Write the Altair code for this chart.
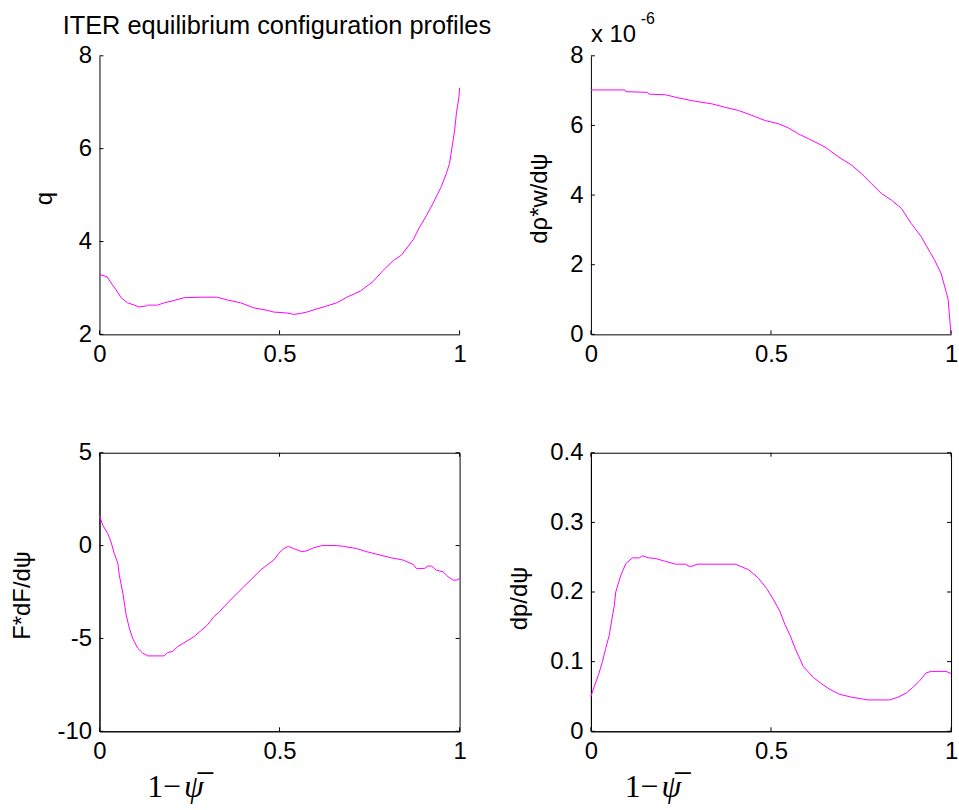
import altair as alt
import pandas as pd

# ---------------- data ----------------
XTICKS = [0, 0.5, 1]

q_x = [0, 0.021, 0.032, 0.046, 0.06, 0.078, 0.097, 0.11, 0.129, 0.134, 0.161, 0.18, 0.207, 0.235, 0.281,
       0.327, 0.355, 0.392, 0.429, 0.465, 0.484, 0.521, 0.539, 0.558, 0.576, 0.604, 0.631, 0.659, 0.687, 0.724,
       0.76, 0.788, 0.816, 0.839, 0.871, 0.889, 0.908, 0.926, 0.949, 0.963, 0.972, 0.982, 0.986, 0.991, 0.998, 1.0]
q_y = [3.29, 3.24, 3.11, 2.96, 2.79, 2.68, 2.63, 2.59, 2.61, 2.63, 2.63, 2.68, 2.73, 2.79, 2.80,
       2.80, 2.74, 2.68, 2.57, 2.52, 2.48, 2.46, 2.43, 2.45, 2.48, 2.55, 2.61, 2.68, 2.80, 2.93,
       3.14, 3.38, 3.59, 3.71, 4.04, 4.31, 4.56, 4.82, 5.18, 5.46, 5.68, 6.18, 6.39, 6.75, 7.11, 7.31]
q_ticks = [2, 4, 6, 8]

w_x = [0, 0.094, 0.097, 0.157, 0.161, 0.207, 0.244, 0.281, 0.336, 0.373, 0.41, 0.447, 0.484, 0.521, 0.548,
       0.576, 0.604, 0.65, 0.687, 0.724, 0.751, 0.779, 0.806, 0.834, 0.862, 0.889, 0.917, 0.935, 0.954, 0.972,
       0.986, 0.992, 0.995, 0.998, 1.0]
w_y = [7.02, 7.02, 6.97, 6.95, 6.90, 6.88, 6.79, 6.71, 6.62, 6.52, 6.43, 6.29, 6.14, 6.05, 5.93,
       5.76, 5.62, 5.38, 5.10, 4.86, 4.62, 4.33, 4.05, 3.86, 3.62, 3.19, 2.81, 2.48, 2.14, 1.76,
       1.24, 1.0, 0.62, 0.24, 0.0]
w_ticks = [0, 2, 4, 6, 8]

f_x = [0, 0.009, 0.023, 0.032, 0.041, 0.051, 0.055, 0.065, 0.074, 0.083, 0.092, 0.106, 0.12, 0.134, 0.18,
       0.189, 0.203, 0.217, 0.24, 0.263, 0.281, 0.3, 0.318, 0.332, 0.346, 0.373, 0.401, 0.429, 0.447, 0.465,
       0.484, 0.498, 0.512, 0.525, 0.539, 0.562, 0.576, 0.594, 0.617, 0.659, 0.677, 0.714, 0.742, 0.779, 0.811,
       0.843, 0.871, 0.88, 0.903, 0.912, 0.922, 0.935, 0.954, 0.968, 0.982, 0.991, 1.0]
f_y = [1.63, 1.10, 0.65, 0.20, -0.42, -0.96, -1.59, -2.57, -3.73, -4.45, -4.99, -5.52, -5.79, -5.94, -5.94,
       -5.76, -5.70, -5.44, -5.17, -4.90, -4.59, -4.27, -3.82, -3.59, -3.29, -2.75, -2.21, -1.68, -1.32, -1.05,
       -0.78, -0.42, -0.16, -0.04, -0.16, -0.33, -0.28, -0.12, 0.0, 0.0, -0.04, -0.16, -0.33, -0.51, -0.66,
       -0.78, -1.01, -1.23, -1.23, -1.10, -1.10, -1.32, -1.41, -1.68, -1.86, -1.86, -1.77]
f_ticks = [-10, -5, 0, 5]

p_x = [0, 0.009, 0.021, 0.032, 0.041, 0.051, 0.058, 0.065, 0.069, 0.083, 0.097, 0.115, 0.134, 0.143, 0.161,
       0.18, 0.207, 0.235, 0.263, 0.272, 0.281, 0.295, 0.401, 0.438, 0.465, 0.488, 0.507, 0.525, 0.539, 0.553,
       0.567, 0.59, 0.618, 0.641, 0.664, 0.691, 0.724, 0.77, 0.829, 0.853, 0.876, 0.894, 0.912, 0.931, 0.945,
       0.986, 1.0]
p_y = [0.050, 0.064, 0.081, 0.100, 0.119, 0.138, 0.160, 0.181, 0.200, 0.224, 0.241, 0.249, 0.249, 0.252, 0.249,
       0.248, 0.244, 0.240, 0.240, 0.237, 0.237, 0.240, 0.240, 0.232, 0.220, 0.205, 0.189, 0.172, 0.153, 0.138,
       0.119, 0.093, 0.077, 0.068, 0.060, 0.053, 0.049, 0.045, 0.045, 0.049, 0.055, 0.063, 0.072, 0.084, 0.086,
       0.086, 0.083]
p_ticks = [0, 0.1, 0.2, 0.3, 0.4]

TITLE = ["ITER equilibrium configuration profiles"]
EXP_BASE = ["x 10"]
EXP_POW = ["-6"]
XLAB_A = ["1\u2212"]
XLAB_B = ["\u03c8\u0305"]
YTITLES = ["q", "d\u03c1*w/d\u03c8", "F*dF/d\u03c8", "dp/d\u03c8"]

# ---------------- layout ----------------
W, H = 362, 280
TL = 4
SANS = "Liberation Sans"
SERIF = "Liberation Serif"
LINE_COLOR = "#ff00ff"
LABEL_EXPR = "'' + datum.value"


def text_layer(txt, x, y, size, font=SANS, style="normal", align="left"):
    return alt.Chart(pd.DataFrame({"t": txt})).mark_text(
        align=align, baseline="alphabetic", fontSize=size, font=font, fontStyle=style, color="black"
    ).encode(text="t:N", x=alt.value(x), y=alt.value(y))


def panel(xs, ys, ydom, yticks, ytitle, tx, ty, boxed, extras):
    xscale = alt.Scale(domain=[0, 1], nice=False, zero=False)
    yscale = alt.Scale(domain=ydom, nice=False, zero=False)
    yaxis = alt.Axis(values=yticks, labelExpr=LABEL_EXPR, title=ytitle, titleX=tx, titleY=ty, titleAngle=270,
                     titleAlign="center", titleBaseline="alphabetic")
    xaxis = alt.Axis(values=XTICKS, labelExpr=LABEL_EXPR, title=None)
    X = alt.X("x:Q", scale=xscale, axis=xaxis)
    Y = alt.Y("y:Q", scale=yscale, axis=yaxis)
    df = pd.DataFrame({"x": xs, "y": ys})
    line = alt.Chart(df).mark_line(color=LINE_COLOR, strokeWidth=1).encode(x=X, y=Y)
    dx = pd.DataFrame({"x": XTICKS})
    dy = pd.DataFrame({"y": yticks})
    layers = [
        line,
        alt.Chart(dx).mark_rule(color="black").encode(x=X, y=alt.value(H), y2=alt.value(H - TL)),
        alt.Chart(dy).mark_rule(color="black").encode(y=Y, x=alt.value(0), x2=alt.value(TL)),
    ]
    if boxed:
        layers += [
            alt.Chart(dx).mark_rule(color="black").encode(x=X, y=alt.value(0), y2=alt.value(TL)),
            alt.Chart(dy).mark_rule(color="black").encode(y=Y, x=alt.value(W - TL), x2=alt.value(W)),
        ]
    layers += extras
    return alt.layer(*layers).properties(
        width=W, height=H,
        view=alt.ViewBackground(stroke="black" if boxed else "transparent", strokeWidth=1),
    )


def xlabel(x0):
    return [text_layer(XLAB_A, x0, H + 66, 32, font=SERIF),
            text_layer(XLAB_B, x0 + 37, H + 66, 32, font=SERIF, style="italic")]


p1 = panel(q_x, q_y, [2, 8], q_ticks, YTITLES[0], -48, 143, False,
           [text_layer(TITLE, -37, -22, 25.5)])
p2 = panel(w_x, w_y, [0, 8], w_ticks, YTITLES[1], -45, 143, False,
           [text_layer(EXP_BASE, 0, -14, 24), text_layer(EXP_POW, 50, -32, 16)])
p3 = panel(f_x, f_y, [-10, 5], f_ticks, YTITLES[2], -70, 143, True, xlabel(48))
p4 = panel(p_x, p_y, [0, 0.4], p_ticks, YTITLES[3], -65, 146, True, xlabel(34))

chart = alt.concat(p1, p2, p3, p4, columns=2, spacing={"row": 119, "column": 132}, bounds="flush").properties(
    padding={"left": 10, "top": 8, "right": 0, "bottom": 0},
    background="white",
).configure_view(stroke="transparent").configure_axis(
    labelFont=SANS, labelFontSize=24, labelColor="black", labelPadding=8,
    labelFlush=False, labelOverlap=False,
    titleFont=SANS, titleFontSize=24, titleFontWeight="normal", titleColor="black",
    domainColor="black", domainWidth=1, grid=False, ticks=False, tickSize=0,
)

chart.save("out.html", embed_options={"renderer": "svg", "actions": False})
